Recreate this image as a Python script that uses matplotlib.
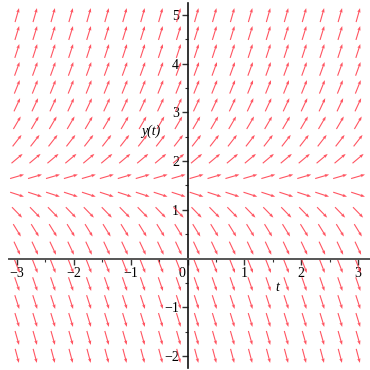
#!usr/bin/env python3

# Direction field for an autonomous ODE y'(t) = f(y), redrawn from a Maple DEplot

import matplotlib
matplotlib.use('Agg')
import matplotlib.pyplot as plt
import matplotlib.transforms as mtransforms
import numpy as np

# grid of arrow positions (20 x 20, as Maple draws it)
t_points = [-3.0, -2.684, -2.368, -2.053, -1.737, -1.421, -1.105, -0.789, -0.474, -0.158,
            0.158, 0.474, 0.789, 1.105, 1.421, 1.737, 2.053, 2.368, 2.684, 3.0]
y_points = [-2.0, -1.632, -1.263, -0.895, -0.526, -0.158, 0.211, 0.579, 0.947, 1.316,
            1.684, 2.053, 2.421, 2.789, 3.158, 3.526, 3.895, 4.263, 4.632, 5.0]
# slope dy/dt (same along a row)
row_slopes = [-4.4, -4.1, -3.8, -3.6, -3.4, -3.0, -2.5, -1.9, -1.2, -0.38,
              0.34, 0.98, 1.5, 2.0, 2.5, 2.9, 3.2, 3.6, 3.8, 4.1]

x_ticks = [-3, -2, -1, 0, 1, 2, 3]
y_ticks = [-2, -1, 1, 2, 3, 4, 5]


def main():
    fig = plt.figure(figsize=(3.7, 3.7), dpi=100)
    ax = fig.add_axes([0, 0, 1, 1])
    ax.set_xlim(-3.30, 3.21)
    ax.set_ylim(-2.29, 5.31)

    # pixels per data unit, so every arrow has the same length on screen
    sx = 370 / (3.21 + 3.30)
    sy = 370 / (5.31 + 2.29)
    arrow_px = 14.5

    T, Y = np.meshgrid(t_points, y_points)
    S = np.repeat(np.array(row_slopes)[:, None], len(t_points), axis=1)
    ang = np.arctan2(S * sy, sx)
    U = np.cos(ang) * arrow_px / sx
    V = np.sin(ang) * arrow_px / sy

    ax.quiver(T, Y, U, V, angles='xy', scale_units='xy', scale=1, pivot='middle',
              color='#ff2a3a', width=0.003, headwidth=3.0, headlength=4.0,
              headaxislength=3.5, alpha=0.8, zorder=2)

    # axes through the origin
    for side in ['top', 'right']:
        ax.spines[side].set_visible(False)
    ax.spines['left'].set_position(('data', 0))
    ax.spines['bottom'].set_position(('data', 0))
    ax.spines['left'].set_bounds(-2.25, 5.25)
    ax.spines['bottom'].set_bounds(-3.15, 3.21)
    ax.spines['left'].set_linewidth(1.2)
    ax.spines['bottom'].set_linewidth(1.4)
    ax.spines['bottom'].set_color('#555555')
    ax.spines['left'].set_color('#111111')

    ax.set_xticks(x_ticks)
    ax.set_yticks(y_ticks)
    ax.set_xticks(np.arange(-3, 3.01, 0.5), minor=True)
    ax.set_yticks(np.arange(-2, 5.01, 0.5), minor=True)
    ax.tick_params(which='major', direction='out', length=4, width=1, color='#333333',
                   labelsize=10, pad=2)
    ax.tick_params(which='minor', direction='out', length=2.5, width=0.8, color='#333333')
    for lab in ax.get_xticklabels() + ax.get_yticklabels():
        lab.set_family('Liberation Serif')

    # Maple nudges the x "0" off the vertical axis
    offset = mtransforms.ScaledTranslation(-6 / 100, 0, fig.dpi_scale_trans)
    xl = ax.get_xticklabels()
    xl[3].set_transform(xl[3].get_transform() + offset)

    ax.text(1.58, -0.6, 't', fontsize=10, family='Liberation Serif', style='italic',
            ha='center', va='center')
    ax.text(-0.65, 2.62, 'y(t)', fontsize=10, family='Liberation Serif', style='italic',
            ha='center', va='center')

    fig.savefig('out.png', dpi=100)


if __name__ == "__main__":
    main()
